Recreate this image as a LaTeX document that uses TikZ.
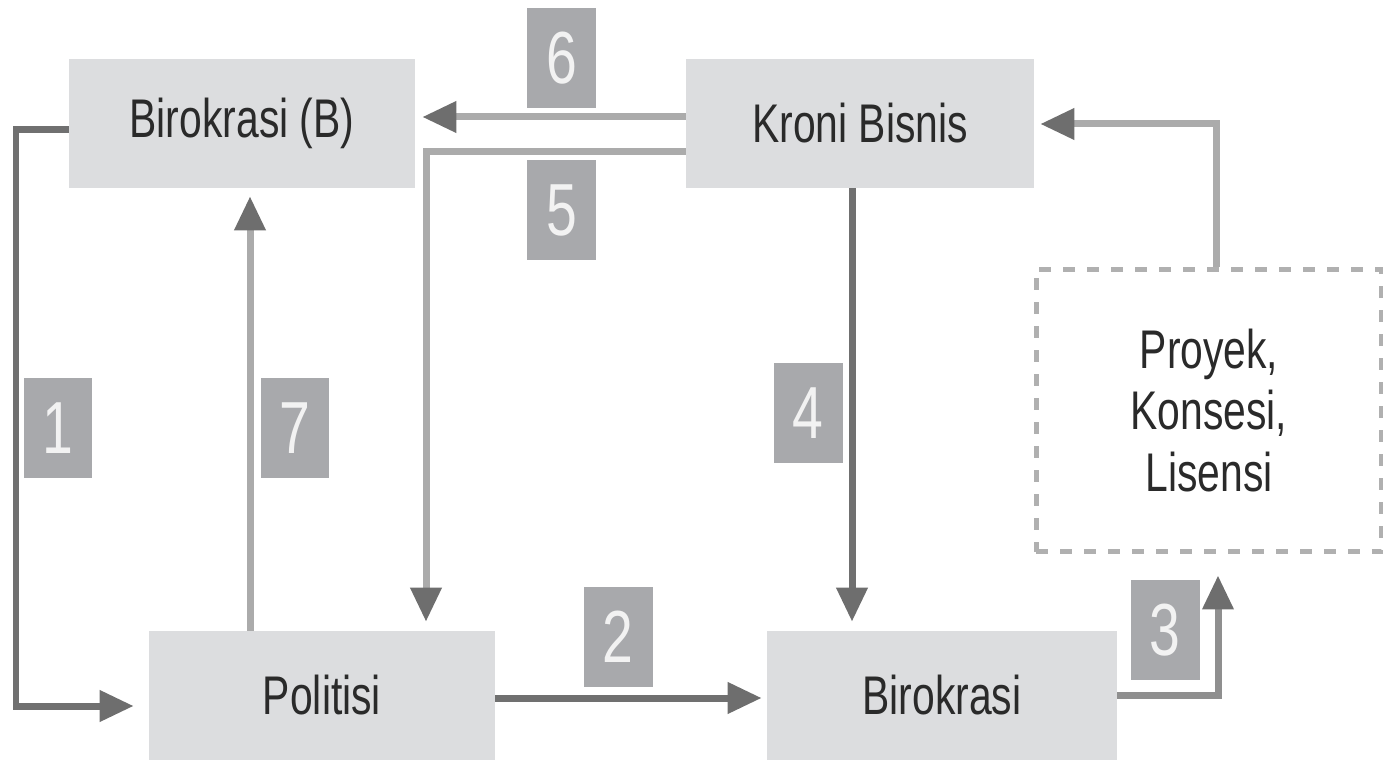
\documentclass[tikz,border=0pt]{standalone}
\usepackage{xcolor}
\usepackage{fontspec}
\setmainfont[FakeStretch=0.75]{Liberation Sans}
\usepackage{tikz}
\usetikzlibrary{arrows.meta}
\definecolor{boxfill}{HTML}{DCDDDF}
\definecolor{tagfill}{HTML}{A8A9AC}
\definecolor{ink}{HTML}{2A2A2A}
\definecolor{darkline}{HTML}{707070}
\definecolor{midline}{HTML}{8F8F8F}
\definecolor{lightline}{HTML}{ABABAB}
\definecolor{headgray}{HTML}{6E6E6E}
\definecolor{dashgray}{HTML}{B0B0B0}
\tikzset{
  box/.style={fill=boxfill, minimum width=6.92cm, minimum height=2.58cm, inner sep=0pt,
    text=ink, font=\fontsize{31}{35}\selectfont},
  dashbox/.style={draw=dashgray, line width=0.1cm, dash pattern=on 0.24cm off 0.24cm,
    minimum width=6.92cm, minimum height=5.66cm, inner sep=0pt, align=center,
    text=ink, font=\fontsize{31}{35}\selectfont},
  tag/.style={fill=tagfill, minimum width=1.38cm, minimum height=2cm, inner sep=0pt,
    text=white!95!black, font=\fontsize{42}{48}\selectfont},
  arr/.style={line width=0.14cm, -{Triangle[length=0.68cm, width=0.6cm, color=headgray]}},
  dk/.style={arr, draw=darkline},
  md/.style={arr, draw=midline},
  lt/.style={arr, draw=lightline},
}

\begin{document}
\begin{tikzpicture}[x=0.02cm, y=-0.02cm]
  \useasboundingbox (0,0) rectangle (1383,760);
  % boxes
  \node[box] (birob) at (242,123.5) {Birokrasi (B)};
  \node[box, minimum width=6.96cm] (kroni) at (860,123.5) {Kroni Bisnis};
  \node[box] (politisi) at (322,695.5) {Politisi};
  \node[box, minimum width=7cm] (birokrasi) at (942,695.5) {Birokrasi};
  \node[dashbox] (proyek) at (1209,410.5) {Proyek,\\Konsesi,\\Lisensi};
  % number tags
  \node[tag] (t6) at (561.5,58) {6};
  \node[tag] (t5) at (561.5,210) {5};
  \node[tag] (t1) at (58,428) {1};
  \node[tag] (t7) at (295,428) {7};
  \node[tag] (t4) at (808,413) {4};
  \node[tag] (t2) at (618,637) {2};
  \node[tag] (t3) at (1165,630) {3};
  % connectors
  \draw[dk, shorten >=0.3cm] (birob.west |- 0,130) -- (16,130) |- (politisi.west |- 0,706);
  \draw[lt, shorten >=0.16cm] (politisi.north -| 250,0) -- (birob.south -| 250,0);
  \draw[lt, shorten >=0.14cm] (kroni.west |- 0,117) -- (birob.east |- 0,117);
  \draw[lt, shorten >=0.18cm] (kroni.west |- 0,152) -- (426,152) -- (politisi.north -| 426,0);
  \draw[dk, shorten >=0.18cm] (kroni.south -| 852,0) -- (birokrasi.north -| 852,0);
  \draw[dk, shorten >=0.1cm] (politisi.east |- 0,698) -- (birokrasi.west |- 0,698);
  \draw[md, shorten >=0.42cm] (birokrasi.east |- 0,695) -| (proyek.south -| 1218,0);
  \draw[lt, shorten >=0.12cm] (proyek.north -| 1216,0) |- (kroni.east |- 0,124);
\end{tikzpicture}
\end{document}
